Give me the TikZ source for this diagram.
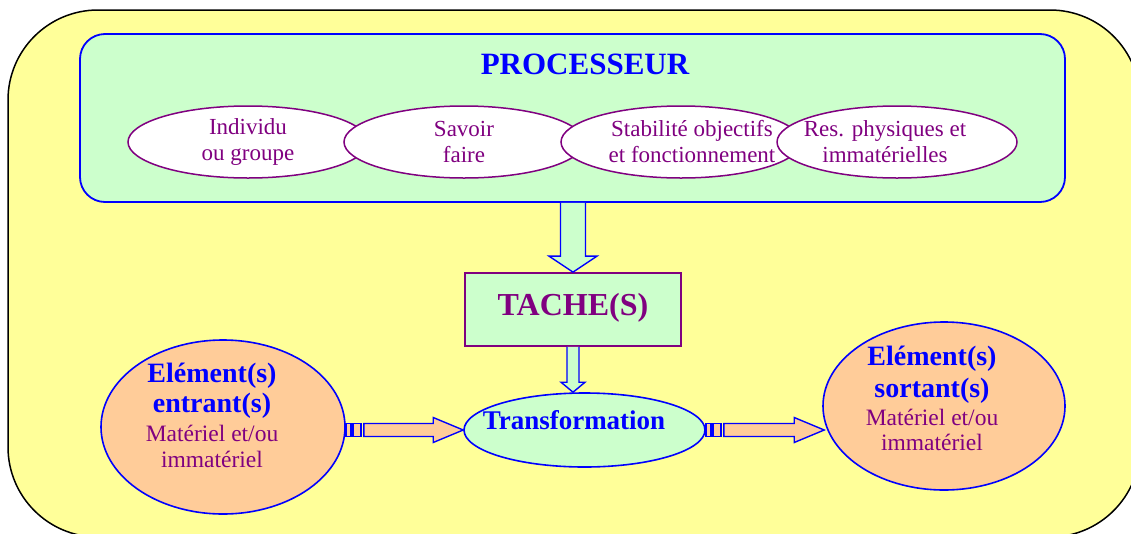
\documentclass[tikz,border=0pt]{standalone}
\usepackage{fontspec}
\setmainfont{Liberation Serif}
\usetikzlibrary{shapes.geometric,calc}
\definecolor{yel}{HTML}{FFFF99}
\definecolor{grn}{HTML}{CCFFCC}
\definecolor{blu}{HTML}{0000FF}
\definecolor{pur}{HTML}{800080}
\definecolor{pch}{HTML}{FFCC99}
\tikzset{
  outerbox/.style={draw=black, line width=1.5pt, fill=yel, rounded corners=90pt},
  procbox/.style={draw=blu, line width=1.8pt, fill=grn, rounded corners=25pt, inner sep=0pt},
  taskbox/.style={draw=pur, line width=1.8pt, fill=grn, inner sep=0pt},
  resell/.style={ellipse, draw=pur, line width=1.5pt, fill=white, inner sep=0pt, minimum width=240pt, minimum height=72pt},
  bigell/.style={ellipse, draw=blu, line width=1.6pt, fill=pch, inner sep=0pt},
  transell/.style={ellipse, draw=blu, line width=1.6pt, fill=grn, inner sep=0pt, minimum width=241pt, minimum height=74pt},
  restext/.style={text=pur, font=\fontsize{23}{26}\selectfont, align=center, inner sep=0pt},
  headtext/.style={text=blu, font=\bfseries\fontsize{28}{30}\selectfont, anchor=base, inner sep=0pt},
  subtext/.style={text=pur, font=\fontsize{23.5}{26}\selectfont, anchor=base, inner sep=0pt},
  blockarr/.style={draw=blu, line width=1.4pt, line join=miter},
}
\newcommand\hblockarrow[3]{%
  \draw[blockarr, fill=#3] ($(#1)+(0,-6.5)$) rectangle ($(#1)+(5,6.5)$);
  \draw[blockarr, fill=#3] ($(#1)+(7,-6.5)$) rectangle ($(#1)+(15,6.5)$);
  \draw[blockarr, fill=#3] ($(#1)+(18,-6.5)$) -- ($(#2)+(-30,-6.5)$) -- ($(#2)+(-30,-12.5)$) -- (#2)
     -- ($(#2)+(-30,12.5)$) -- ($(#2)+(-30,6.5)$) -- ($(#1)+(18,6.5)$) -- cycle;
}
\begin{document}
\begin{tikzpicture}[x=1pt,y=-1pt]
\useasboundingbox (0,0) rectangle (1131,533);
\clip (0,0) rectangle (1131,533);
\draw[outerbox] (8,10) rectangle (1140,537);

% processor
\node[procbox, minimum width=985pt, minimum height=168pt] (proc) at (572.5,118) {};
\node[text=blu, font=\bfseries\fontsize{31}{31}\selectfont, anchor=base, inner sep=0pt] (ptitle) at (585,74) {PROCESSEUR};
\node[resell] (r1) at (248,142) {};
\node[resell] (r2) at (464,142) {};
\node[resell] (r3) at (681,142) {};
\node[resell] (r4) at (897,142) {};
\node[restext] (t1) at (248,142) {Individu\\ou groupe};
\node[restext] (t2) at (464,142) {Savoir\\faire};
\node[restext] (t3) at (692,142) {Stabilité objectifs\\et fonctionnement};
\node[restext] (t4) at (885,142) {Res. physiques et\\immatérielles};

% task
\node[taskbox, minimum width=216pt, minimum height=73pt] (tache) at (573,309.5) {};
\node[text=pur, font=\bfseries\fontsize{32}{32}\selectfont, anchor=base, inner sep=0pt] (ttache) at (573,315) {TACHE(S)};

% transformation
\node[transell] (trans) at (584.5,430) {};
\node[text=blu, font=\bfseries\fontsize{27}{30}\selectfont, anchor=base, inner sep=0pt] (ttrans) at (574,429) {Transformation};

% input / output
\node[bigell, minimum width=244pt, minimum height=174pt] (in) at (223,427) {};
\node[headtext] (in1) at (212,382) {Elément(s)};
\node[headtext] (in2) at (212,412) {entrant(s)};
\node[subtext] (in3) at (212,441) {Matériel et/ou};
\node[subtext] (in4) at (212,467) {immatériel};

\node[bigell, minimum width=242pt, minimum height=168pt] (out) at (944,406) {};
\node[headtext] (out1) at (932,365) {Elément(s)};
\node[headtext] (out2) at (932,397) {sortant(s)};
\node[subtext] (out3) at (932,425) {Matériel et/ou};
\node[subtext] (out4) at (932,450) {immatériel};

% vertical block arrows
\coordinate (ptop) at (proc.south -| tache.north);
\draw[blockarr, fill=grn] ($(ptop)+(-12.5,0)$) -- ($(tache.north)+(-12.5,-16)$) -- ($(tache.north)+(-24,-16)$) -- (tache.north)
   -- ($(tache.north)+(24,-16)$) -- ($(tache.north)+(12.5,-16)$) -- ($(ptop)+(12.5,0)$);
\coordinate (ttip) at (tache.south |- trans.north);
\draw[blockarr, fill=grn] ($(tache.south)+(-6,0)$) -- ($(ttip)+(-6,-10)$) -- ($(ttip)+(-12,-10)$) -- (ttip)
   -- ($(ttip)+(12,-10)$) -- ($(ttip)+(6,-10)$) -- ($(tache.south)+(6,0)$);

% horizontal block arrows
\coordinate (ls) at (in.east |- trans.west);
\hblockarrow{ls}{trans.west}{pch}
\coordinate (re) at ($(out.west |- trans.east)+(2,0)$);
\hblockarrow{trans.east}{re}{pch}
\end{tikzpicture}
\end{document}
